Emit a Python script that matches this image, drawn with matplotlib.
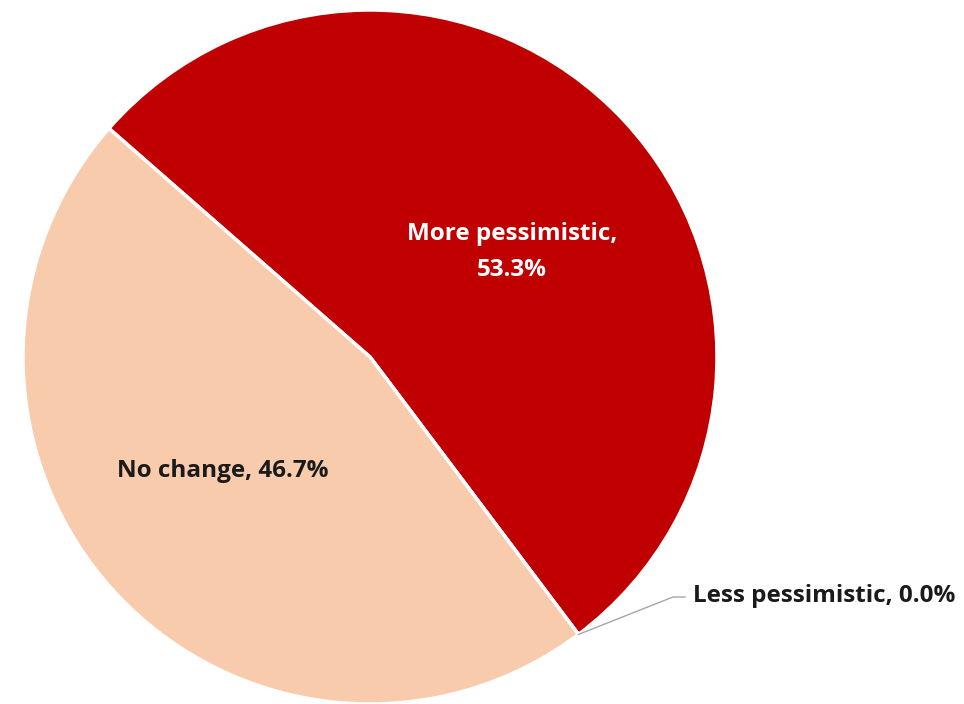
import numpy as np
import matplotlib.pyplot as plt

# survey shares, drawn clockwise starting from the upper-left
labels = ["More pessimistic", "Less pessimistic", "No change"]
shares = [53.3, 0.0, 46.7]
colors = ["#C00000", "#F8CBAD", "#F8CBAD"]

plt.rcParams['font.family'] = ['Open Sans', 'DejaVu Sans']

fig = plt.figure(figsize=(9.64, 7.04), dpi=100)
ax = fig.add_axes([0, 0, 1, 1])

cx, cy, R = 370, 347, 347
wedges, _ = ax.pie(shares, colors=colors, startangle=138.8, counterclock=False,
                   center=(cx, cy), radius=R,
                   wedgeprops=dict(edgecolor='white', linewidth=2.5))
ax.set_xlim(0, 964)
ax.set_ylim(0, 704)
ax.set_aspect('equal')
ax.axis('off')

fs = 17.5

# label inside the red slice
ax.text(512, 452, f"{labels[0]},\n{shares[0]:.1f}%", color='white', fontsize=fs,
        fontweight='bold', ha='center', va='center', linespacing=1.65)

# label inside the peach slice
ax.text(223, 233, f"{labels[2]}, {shares[2]:.1f}%", color='#1a1a1a', fontsize=fs,
        fontweight='bold', ha='center', va='center')

# zero slice gets a leader line out to the right
a = np.deg2rad(wedges[1].theta1)
px, py = cx + R * np.cos(a), cy + R * np.sin(a)
ex, ey = 673, 107
ax.plot([px, ex, ex + 12], [py, ey, ey], color='#a6a6a6', lw=1)
ax.text(ex + 20, ey + 1, f"{labels[1]}, {shares[1]:.1f}%", color='#1a1a1a',
        fontsize=fs, fontweight='bold', ha='left', va='center')

fig.savefig('out.png', dpi=100, facecolor='white')
